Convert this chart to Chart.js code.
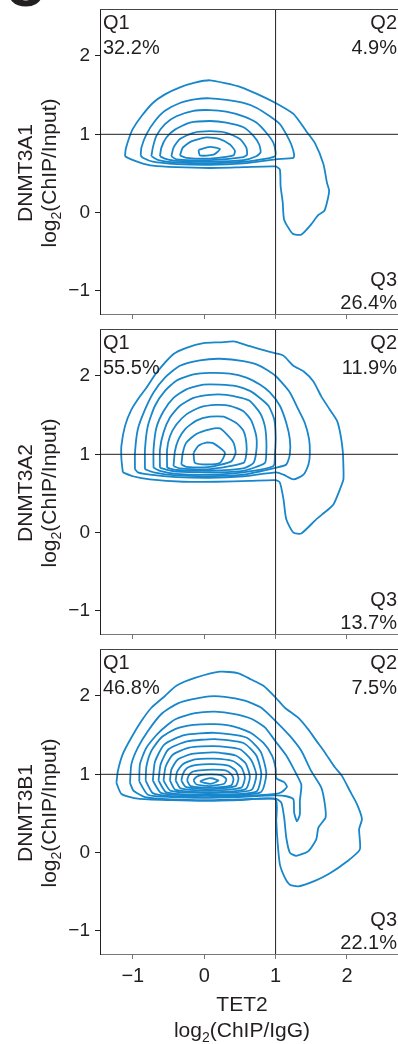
<!DOCTYPE html>
<html>
<head>
<meta charset="utf-8">
<script src="https://cdn.jsdelivr.net/npm/chart.js@4.4.1/dist/chart.umd.min.js"></script>
<style>
  html, body { margin: 0; padding: 0; background: #fff; }
  body { position: relative; width: 398px; height: 1044px; overflow: hidden; }
  .panel { position: absolute; left: 0; }
  #tag { position: absolute; left: 5px; top: -40px; font: bold 54px/54px "Liberation Sans", Arial, sans-serif; color: #231f20; }
</style>
</head>
<body>
<div id="tag">C</div>
<canvas id="p1" class="panel" width="398" height="320" style="top:0"></canvas>
<canvas id="p2" class="panel" width="398" height="320" style="top:320px"></canvas>
<canvas id="p3" class="panel" width="398" height="404" style="top:640px"></canvas>
<script>
const TEXT = '#231f20';
const BLUE = '#1886cb';
const FONT = '"Liberation Sans", Arial, Helvetica, sans-serif';

// axes
const xTicks = [-1, 0, 1, 2];
const yTicks = [-1, 0, 1, 2];
const xRange = [-1.46, 2.715];
const yRange = [-1.294, 2.6];
const gateX = 1;
const gateY = 1;

// panel labels
const panelNames = ['DNMT3A1', 'DNMT3A2', 'DNMT3B1'];
const q1Pct = ['32.2%', '55.5%', '46.8%'];
const q2Pct = ['4.9%', '11.9%', '7.5%'];
const q3Pct = ['26.4%', '13.7%', '22.1%'];

// contour lines, [TET2, DNMT] in log2 units, outermost first
// DNMT3A1
const a1c1 = [[-1.11,0.72],[-1.10,0.81],[-1.05,0.96],[-1.00,1.07],[-0.88,1.23],[-0.72,1.40],[-0.55,1.51],[-0.34,1.60],[-0.13,1.66],[0.08,1.69],[0.31,1.65],[0.52,1.60],[0.73,1.52],[1.00,1.40],[1.25,1.26],[1.43,1.04],[1.55,0.89],[1.67,0.62],[1.72,0.38],[1.75,0.28],[1.72,0.13],[1.68,0.02],[1.60,-0.03],[1.48,-0.17],[1.36,-0.28],[1.24,-0.27],[1.12,-0.09],[1.10,0.13],[1.07,0.34],[1.06,0.55],[1.00,0.59],[0.55,0.58],[0.08,0.57],[-0.39,0.58],[-0.72,0.60],[-0.90,0.64],[-1.07,0.70]];
const a1c2 = [[-0.89,0.73],[-0.88,0.83],[-0.81,1.00],[-0.69,1.17],[-0.55,1.30],[-0.34,1.40],[-0.11,1.45],[0.08,1.46],[0.31,1.44],[0.55,1.40],[0.73,1.34],[0.92,1.23],[1.06,1.13],[1.15,1.00],[1.22,0.87],[1.26,0.74],[1.25,0.70],[1.00,0.68],[0.55,0.63],[0.08,0.61],[-0.39,0.62],[-0.72,0.65],[-0.86,0.70]];
const a1c3 = [[-0.74,0.72],[-0.72,0.83],[-0.67,0.98],[-0.55,1.13],[-0.39,1.23],[-0.15,1.30],[0.08,1.31],[0.31,1.29],[0.55,1.23],[0.73,1.15],[0.87,1.02],[0.97,0.89],[1.00,0.77],[0.99,0.72],[0.87,0.69],[0.55,0.65],[0.08,0.63],[-0.39,0.64],[-0.64,0.67]];
const a1c4 = [[-0.62,0.72],[-0.60,0.83],[-0.53,0.96],[-0.41,1.06],[-0.20,1.15],[0.08,1.17],[0.31,1.15],[0.55,1.09],[0.69,0.98],[0.77,0.87],[0.79,0.77],[0.73,0.72],[0.55,0.67],[0.08,0.65],[-0.39,0.66],[-0.55,0.69]];
const a1c5 = [[-0.46,0.72],[-0.43,0.83],[-0.34,0.94],[-0.15,1.02],[0.08,1.04],[0.31,1.02],[0.50,0.94],[0.59,0.83],[0.60,0.74],[0.55,0.71],[0.08,0.67],[-0.39,0.68]];
const a1c6 = [[-0.34,0.73],[-0.30,0.83],[-0.18,0.91],[0.03,0.96],[0.22,0.94],[0.36,0.87],[0.43,0.79],[0.41,0.73],[0.08,0.69],[-0.25,0.70]];
const a1c7 = [[-0.08,0.80],[0.08,0.84],[0.22,0.81],[0.13,0.74],[-0.06,0.73]];

// DNMT3A2
const a2c1 = [[-1.14,0.77],[-1.16,0.94],[-1.16,1.11],[-1.11,1.36],[-1.02,1.57],[-0.90,1.74],[-0.81,1.85],[-0.67,2.04],[-0.43,2.28],[-0.25,2.36],[-0.01,2.42],[0.22,2.43],[0.43,2.44],[0.64,2.38],[0.87,2.32],[1.00,2.29],[1.11,2.26],[1.25,2.13],[1.39,2.06],[1.53,1.93],[1.64,1.74],[1.76,1.57],[1.86,1.43],[1.91,1.25],[1.94,1.05],[1.95,0.85],[1.95,0.68],[1.90,0.55],[1.81,0.36],[1.69,0.26],[1.57,0.17],[1.36,-0.01],[1.25,0.00],[1.15,0.17],[1.11,0.43],[1.06,0.64],[1.00,0.67],[0.64,0.66],[0.17,0.65],[-0.29,0.65],[-0.76,0.68],[-1.00,0.72]];
const a2c2 = [[-0.97,0.81],[-0.97,1.02],[-0.93,1.32],[-0.83,1.57],[-0.71,1.79],[-0.55,1.98],[-0.34,2.13],[-0.06,2.20],[0.22,2.22],[0.55,2.19],[0.78,2.13],[1.00,2.00],[1.20,1.79],[1.32,1.57],[1.41,1.40],[1.47,1.19],[1.48,1.00],[1.46,0.87],[1.39,0.74],[1.25,0.68],[1.11,0.74],[1.01,0.77],[0.55,0.72],[0.08,0.70],[-0.39,0.71],[-0.76,0.74],[-0.93,0.77]];
const a2c3 = [[-0.83,0.81],[-0.83,1.06],[-0.79,1.36],[-0.69,1.62],[-0.55,1.81],[-0.39,1.94],[-0.15,2.02],[0.08,2.04],[0.36,2.03],[0.59,1.98],[0.78,1.89],[0.92,1.79],[1.06,1.62],[1.15,1.40],[1.20,1.19],[1.20,1.00],[1.15,0.87],[1.01,0.83],[0.55,0.74],[0.08,0.72],[-0.39,0.73],[-0.71,0.77]];
const a2c4 = [[-0.71,0.83],[-0.71,1.06],[-0.67,1.34],[-0.57,1.55],[-0.43,1.72],[-0.25,1.83],[-0.01,1.89],[0.22,1.89],[0.45,1.87],[0.64,1.81],[0.78,1.72],[0.90,1.62],[0.98,1.45],[1.00,1.23],[0.99,1.00],[0.97,0.85],[0.55,0.77],[0.08,0.74],[-0.39,0.75],[-0.62,0.79]];
const a2c5 = [[-0.62,0.83],[-0.62,1.06],[-0.57,1.28],[-0.48,1.47],[-0.34,1.62],[-0.15,1.72],[0.08,1.76],[0.31,1.76],[0.52,1.72],[0.64,1.68],[0.78,1.53],[0.85,1.36],[0.87,1.19],[0.87,1.02],[0.85,0.89],[0.55,0.79],[0.08,0.77],[-0.39,0.78],[-0.55,0.81]];
const a2c6 = [[-0.52,0.83],[-0.52,1.06],[-0.48,1.23],[-0.39,1.38],[-0.25,1.51],[-0.06,1.60],[0.17,1.63],[0.36,1.62],[0.55,1.55],[0.66,1.43],[0.73,1.23],[0.73,1.04],[0.69,0.89],[0.55,0.82],[0.08,0.79],[-0.39,0.80]];
const a2c7 = [[-0.43,0.85],[-0.41,1.04],[-0.36,1.19],[-0.27,1.32],[-0.11,1.43],[0.08,1.48],[0.27,1.48],[0.45,1.40],[0.55,1.30],[0.59,1.15],[0.59,1.00],[0.55,0.89],[0.08,0.81],[-0.34,0.82]];
const a2c8 = [[-0.32,0.87],[-0.30,1.02],[-0.25,1.15],[-0.11,1.26],[0.08,1.32],[0.22,1.33],[0.31,1.26],[0.41,1.15],[0.44,1.02],[0.38,0.91],[0.08,0.84],[-0.25,0.84]];
const a2c9 = [[-0.15,1.02],[-0.08,1.11],[0.03,1.15],[0.13,1.14],[0.29,1.02],[0.22,0.89],[0.03,0.87],[-0.13,0.89]];

// DNMT3B1
const a3c1 = [[-1.23,0.89],[-1.21,1.04],[-1.14,1.26],[-1.02,1.47],[-0.88,1.68],[-0.74,1.85],[-0.55,2.00],[-0.39,2.13],[-0.13,2.23],[0.22,2.31],[0.48,2.29],[0.66,2.21],[0.83,2.13],[1.00,1.98],[1.13,1.85],[1.32,1.72],[1.46,1.57],[1.57,1.43],[1.69,1.28],[1.83,1.09],[1.93,0.98],[2.04,0.79],[2.14,0.62],[2.21,0.43],[2.17,0.30],[2.18,0.04],[1.99,-0.12],[1.75,-0.27],[1.55,-0.36],[1.32,-0.43],[1.20,-0.41],[1.13,-0.32],[1.06,-0.15],[1.03,0.11],[1.01,0.40],[1.00,0.68],[0.48,0.67],[0.01,0.66],[-0.46,0.67],[-0.93,0.69],[-1.16,0.75]];
const a3c2 = [[-1.04,0.89],[-1.02,1.13],[-0.93,1.34],[-0.79,1.55],[-0.60,1.77],[-0.36,1.91],[0.01,1.99],[0.29,1.99],[0.57,1.94],[0.80,1.85],[1.00,1.68],[1.20,1.49],[1.36,1.30],[1.50,1.04],[1.64,0.83],[1.69,0.62],[1.70,0.45],[1.60,0.32],[1.57,0.17],[1.46,0.02],[1.29,-0.04],[1.20,0.00],[1.15,0.19],[1.12,0.45],[1.08,0.64],[1.00,0.69],[0.48,0.68],[0.01,0.67],[-0.46,0.68],[-0.83,0.71],[-0.99,0.79]];
const a3c3 = [[-0.91,0.91],[-0.90,1.13],[-0.81,1.34],[-0.64,1.53],[-0.41,1.70],[-0.13,1.78],[0.15,1.80],[0.43,1.77],[0.66,1.71],[0.85,1.60],[1.00,1.42],[1.15,1.24],[1.27,1.04],[1.36,0.87],[1.35,0.74],[1.34,0.66],[1.34,0.49],[1.30,0.40],[1.26,0.51],[1.25,0.68],[1.15,0.72],[1.00,0.73],[0.48,0.71],[0.01,0.70],[-0.46,0.71],[-0.79,0.74]];
const a3c4 = [[-0.82,0.92],[-0.81,1.10],[-0.74,1.30],[-0.60,1.47],[-0.40,1.58],[-0.15,1.63],[0.15,1.64],[0.42,1.61],[0.65,1.53],[0.83,1.40],[0.95,1.24],[1.00,1.08],[1.01,0.95],[1.12,0.90],[1.16,0.84],[1.08,0.77],[1.00,0.75],[0.48,0.72],[0.01,0.71],[-0.46,0.72],[-0.72,0.76]];
const a3c5 = [[-0.72,0.92],[-0.69,1.16],[-0.56,1.38],[-0.28,1.50],[0.15,1.53],[0.59,1.47],[0.79,1.29],[0.87,1.01],[0.79,0.77],[0.08,0.73],[-0.60,0.76]];
const a3c6 = [[-0.64,0.92],[-0.61,1.13],[-0.50,1.32],[-0.24,1.42],[0.15,1.45],[0.55,1.40],[0.73,1.24],[0.80,1.00],[0.73,0.78],[0.08,0.74],[-0.53,0.77]];
const a3c7 = [[-0.57,0.92],[-0.54,1.10],[-0.44,1.25],[-0.21,1.34],[0.14,1.36],[0.50,1.32],[0.66,1.18],[0.73,0.99],[0.66,0.80],[0.08,0.76],[-0.47,0.79]];
const a3c8 = [[-0.48,0.92],[-0.46,1.06],[-0.37,1.19],[-0.17,1.26],[0.14,1.28],[0.44,1.24],[0.58,1.14],[0.64,0.97],[0.58,0.81],[0.08,0.77],[-0.40,0.80]];
const a3c9 = [[-0.40,0.92],[-0.38,1.03],[-0.30,1.13],[-0.13,1.19],[0.13,1.20],[0.40,1.17],[0.52,1.09],[0.57,0.96],[0.52,0.83],[0.08,0.79],[-0.33,0.82]];
const a3c10 = [[-0.32,0.92],[-0.30,1.00],[-0.24,1.08],[-0.10,1.12],[0.12,1.13],[0.34,1.11],[0.44,1.05],[0.48,0.95],[0.44,0.85],[0.08,0.81],[-0.26,0.84]];
const a3c11 = [[-0.24,0.92],[-0.22,0.98],[-0.17,1.03],[-0.06,1.05],[0.12,1.06],[0.30,1.05],[0.38,1.00],[0.41,0.94],[0.38,0.86],[0.08,0.83],[-0.19,0.85]];
const a3c12 = [[-0.15,0.92],[-0.13,0.95],[-0.08,0.98],[0.00,0.995],[0.10,1.00],[0.23,0.99],[0.29,0.96],[0.31,0.93],[0.28,0.88],[0.08,0.85],[-0.11,0.87]];
const a3c13 = [[-0.06,0.91],[0.02,0.94],[0.10,0.95],[0.20,0.92],[0.10,0.88],[0.00,0.89]];

const panels = [
  [a1c1, a1c2, a1c3, a1c4, a1c5, a1c6, a1c7],
  [a2c1, a2c2, a2c3, a2c4, a2c5, a2c6, a2c7, a2c8, a2c9],
  [a3c1, a3c2, a3c3, a3c4, a3c5, a3c6, a3c7, a3c8, a3c9, a3c10, a3c11, a3c12, a3c13]
];

function fmt(v) {
  return v < 0 ? '\u2212' + (-v) : String(v);
}

// "log" + subscript 2 + rest, centred on x
function drawLog2(ctx, x, y, rest) {
  const main = '21px ' + FONT, sub = '14px ' + FONT;
  ctx.font = main;
  const w1 = ctx.measureText('log').width;
  const w3 = ctx.measureText(rest).width;
  ctx.font = sub;
  const w2 = ctx.measureText('2').width;
  let cx = x - (w1 + w2 + w3) / 2;
  ctx.textAlign = 'left';
  ctx.font = main; ctx.fillText('log', cx, y); cx += w1;
  ctx.font = sub; ctx.fillText('2', cx, y + 5); cx += w2;
  ctx.font = main; ctx.fillText(rest, cx, y);
}

const decor = {
  id: 'decor',
  afterDraw(chart, args, o) {
    const {ctx, chartArea: a} = chart;
    ctx.save();
    // top frame line
    ctx.strokeStyle = '#444';
    ctx.lineWidth = 1;
    ctx.beginPath();
    ctx.moveTo(a.left, Math.round(a.top) + 0.5);
    ctx.lineTo(a.right, Math.round(a.top) + 0.5);
    ctx.stroke();

    // quadrant labels
    ctx.fillStyle = TEXT;
    ctx.textBaseline = 'alphabetic';
    ctx.font = '20px ' + FONT;
    ctx.textAlign = 'left';
    ctx.fillText('Q1', a.left + 3, a.top + 20);
    ctx.fillText(o.q[0], a.left + 3, a.top + 45);
    ctx.textAlign = 'right';
    ctx.fillText('Q2', a.right - 1, a.top + 20);
    ctx.fillText(o.q[1], a.right - 1, a.top + 45);
    ctx.fillText('Q3', a.right - 1, a.bottom - 28);
    ctx.fillText(o.q[2], a.right - 1, a.bottom - 5);

    // y title, two lines
    const cy = a.top + 164;
    ctx.save();
    ctx.translate(32, cy);
    ctx.rotate(-Math.PI / 2);
    ctx.font = '21px ' + FONT;
    ctx.textAlign = 'center';
    ctx.fillText(o.name, 0, 0);
    ctx.restore();
    ctx.save();
    ctx.translate(56, cy);
    ctx.rotate(-Math.PI / 2);
    drawLog2(ctx, 0, 0, '(ChIP/Input)');
    ctx.restore();

    // x title on the last panel
    if (o.last) {
      ctx.font = '21px ' + FONT;
      ctx.textAlign = 'center';
      ctx.fillText('TET2', 242, a.bottom + 57);
      drawLog2(ctx, 242, a.bottom + 83, '(ChIP/IgG)');
    }
    ctx.restore();
  }
};

function makePanel(id, i) {
  const last = i === panels.length - 1;
  const datasets = panels[i].map(c => ({
    data: c.concat([c[0]]).map(p => ({x: p[0], y: p[1]})),
    showLine: true,
    borderColor: BLUE,
    borderWidth: 1.8,
    pointRadius: 0,
    tension: 0.2,
    fill: false
  }));
  // quadrant gates
  datasets.unshift({
    data: [{x: gateX, y: yRange[0]}, {x: gateX, y: yRange[1]}],
    showLine: true, borderColor: TEXT, borderWidth: 1, pointRadius: 0
  }, {
    data: [{x: xRange[0], y: gateY}, {x: xRange[1], y: gateY}],
    showLine: true, borderColor: TEXT, borderWidth: 1, pointRadius: 0
  });

  new Chart(document.getElementById(id), {
    type: 'scatter',
    data: {datasets},
    options: {
      responsive: false,
      animation: false,
      events: [],
      layout: {padding: {top: 9, left: 0, right: 0, bottom: 0}},
      plugins: {
        legend: {display: false},
        tooltip: {enabled: false},
        decor: {name: panelNames[i], q: [q1Pct[i], q2Pct[i], q3Pct[i]], last: last}
      },
      scales: {
        x: {
          type: 'linear',
          min: xRange[0],
          max: xRange[1],
          afterBuildTicks: s => { s.ticks = xTicks.map(v => ({value: v})); },
          afterFit: s => {
            s.height = last ? 90 : 6;
            s.paddingLeft = 0; s.paddingRight = 0;
          },
          ticks: {display: last, padding: 5, color: TEXT, font: {family: FONT, size: 20}, callback: fmt, maxRotation: 0},
          grid: {drawOnChartArea: false, tickLength: 5, color: '#777'},
          border: {color: '#777', width: 1}
        },
        y: {
          type: 'linear',
          min: yRange[0],
          max: yRange[1],
          afterBuildTicks: s => { s.ticks = yTicks.map(v => ({value: v})); },
          afterFit: s => {
            s.width = 100;
            s.paddingTop = 0; s.paddingBottom = 0;
          },
          ticks: {padding: 5, color: TEXT, font: {family: FONT, size: 19}, callback: fmt},
          grid: {drawOnChartArea: false, tickLength: 5, color: TEXT},
          border: {color: TEXT, width: 1}
        }
      }
    },
    plugins: [decor]
  });
}

makePanel('p1', 0);
makePanel('p2', 1);
makePanel('p3', 2);
</script>
</body>
</html>
